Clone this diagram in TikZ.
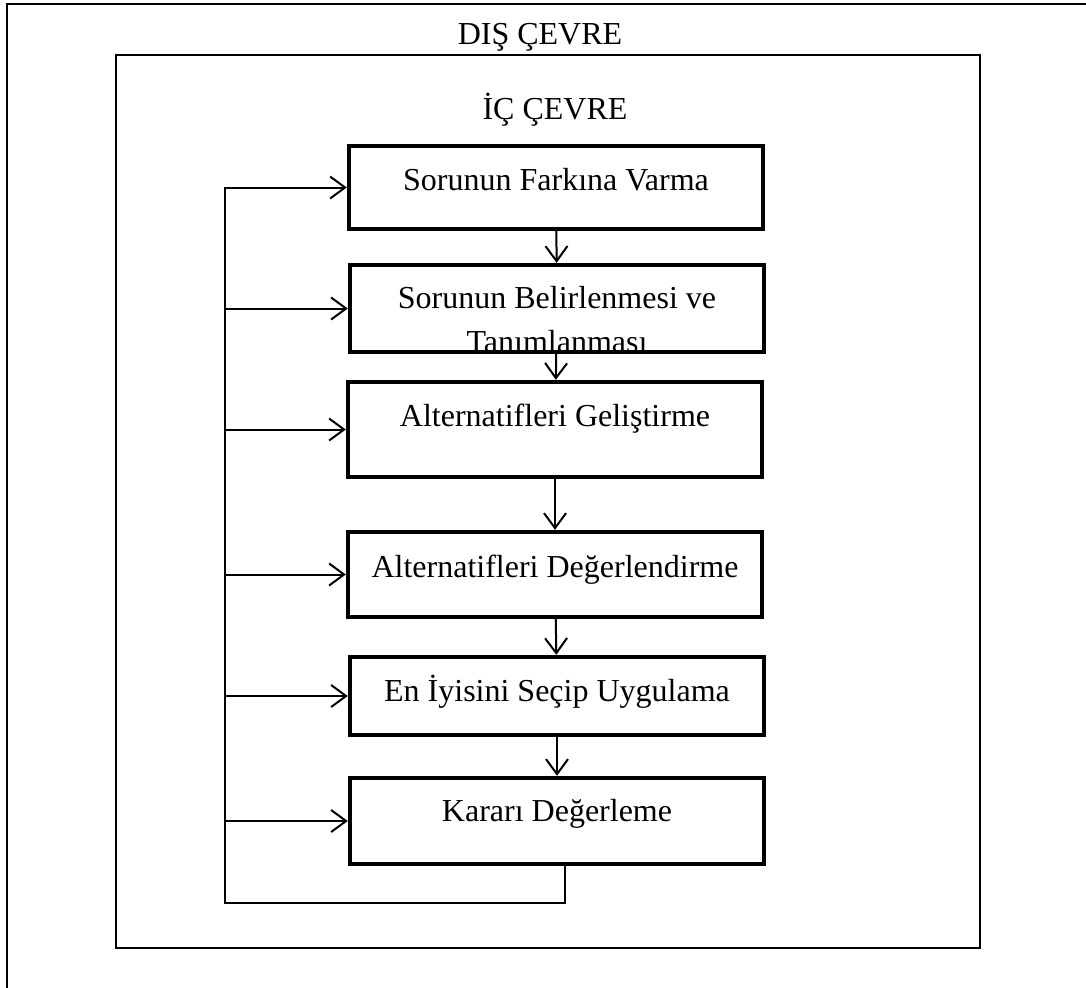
\documentclass[tikz,border=0pt]{standalone}
\usepackage{fontspec}
\setmainfont{Liberation Serif}
\usepackage{tikz}
\usetikzlibrary{arrows.meta,positioning,calc}
\tikzstyle{FrameLine}=[line width=1pt]
\tikzstyle{StepBox} =[draw,rectangle,line width=2.2pt,minimum width=207pt,text depth=8pt,font=\fontsize{16}{22}\selectfont,align=center]
\tikzstyle{TitleText} =[draw=none,font=\fontsize{16}{19}\selectfont]
\tikzstyle{FlowArrow} =[line width=1pt,-{Straight Barb[length=7.5pt,width=11pt,line width=1pt]}]

\begin{document}
\begin{tikzpicture}[x=0.5pt,y=-0.5pt]
  \useasboundingbox (0,0) rectangle (1086,987);
  \draw[FrameLine] (7,4) rectangle (1110,1010);
  \draw[line width=0.8pt] (116,55) rectangle (980,948);
  \node[TitleText](Dis-Cevre) at (540,37){DIŞ ÇEVRE};
  \node[TitleText](Ic-Cevre) at (555,110){İÇ ÇEVRE};

  \node[StepBox,minimum height=41.5pt](Sorunun-Farkina-Varma) at (556,187.5){Sorunun Farkına Varma};
  \node[StepBox,minimum height=43.5pt](Sorunun-Belirlenmesi) at (557,308.5){\raisebox{-10pt}[10pt][10pt]{\begin{tabular}{@{}c@{}}Sorunun Belirlenmesi ve\\Tanımlanması\end{tabular}}};
  \node[StepBox,minimum height=47.5pt,text depth=14pt](Alternatifleri-Gelistirme) at (555,429.5){Alternatifleri Geliştirme};
  \node[StepBox,minimum height=42.5pt](Alternatifleri-Degerlendirme) at (555,574.5){Alternatifleri Değerlendirme};
  \node[StepBox,minimum height=39pt](En-Iyisini-Secip) at (557,696){En İyisini Seçip Uygulama};
  \node[StepBox,minimum height=43pt,text depth=11pt](Karari-Degerleme) at (557,821){Kararı Değerleme};

  \coordinate (Loop-Line) at (225,903);

  \draw[FlowArrow] (Sorunun-Farkina-Varma) -- (Sorunun-Belirlenmesi);
  \draw[FlowArrow] (Sorunun-Belirlenmesi) -- (Alternatifleri-Gelistirme);
  \draw[FlowArrow] (Alternatifleri-Gelistirme) -- (Alternatifleri-Degerlendirme);
  \draw[FlowArrow] (Alternatifleri-Degerlendirme) -- (En-Iyisini-Secip);
  \draw[FlowArrow] (En-Iyisini-Secip) -- (Karari-Degerleme);

  \draw[FlowArrow] ([xshift=4pt]Karari-Degerleme.south) |- (Loop-Line) |- (Sorunun-Farkina-Varma.west);
  \draw[FlowArrow] (Sorunun-Belirlenmesi.west -| Loop-Line) -- (Sorunun-Belirlenmesi.west);
  \draw[FlowArrow] (Alternatifleri-Gelistirme.west -| Loop-Line) -- (Alternatifleri-Gelistirme.west);
  \draw[FlowArrow] (Alternatifleri-Degerlendirme.west -| Loop-Line) -- (Alternatifleri-Degerlendirme.west);
  \draw[FlowArrow] (En-Iyisini-Secip.west -| Loop-Line) -- (En-Iyisini-Secip.west);
  \draw[FlowArrow] (Karari-Degerleme.west -| Loop-Line) -- (Karari-Degerleme.west);

\end{tikzpicture}
\end{document}
